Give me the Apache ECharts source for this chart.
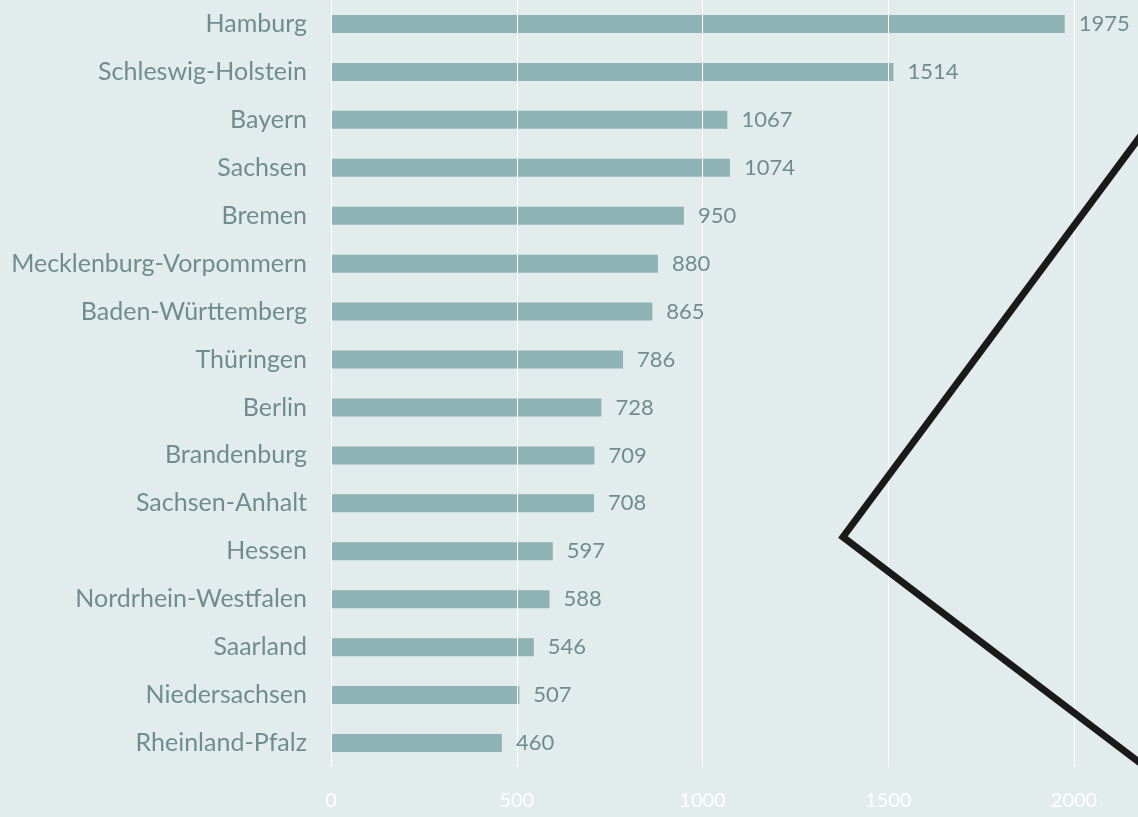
<!DOCTYPE html>
<html>
<head>
<meta charset="utf-8">
<title>Bundesländer</title>
<script src="https://cdn.jsdelivr.net/npm/echarts@6/dist/echarts.min.js"></script>
<style>
  html, body {
    margin: 0;
    padding: 0;
    background: #e3ecec;
  }
  #chart {
    width: 1138px;
    height: 817px;
  }
</style>
</head>
<body>
<div id="chart"></div>
<script>
/* Kategorien, von oben nach unten */
const states = [
  'Hamburg', 'Schleswig-Holstein', 'Bayern', 'Sachsen', 'Bremen',
  'Mecklenburg-Vorpommern', 'Baden-Württemberg', 'Thüringen', 'Berlin',
  'Brandenburg', 'Sachsen-Anhalt', 'Hessen', 'Nordrhein-Westfalen',
  'Saarland', 'Niedersachsen', 'Rheinland-Pfalz'
]
const values = [
  1975, 1514, 1067, 1074, 950, 880, 865, 786, 728,
  709, 708, 597, 588, 546, 507, 460
]
const xTicks = [0, 500, 1000, 1500, 2000]

const textColor = '#708d8e'
const barColor = '#8fb3b5'

const myChart = echarts.init(document.getElementById('chart'))

myChart.setOption({
  backgroundColor: '#e3ecec',
  animation: false,
  textStyle: {
    fontFamily: 'Lato'
  },
  grid: {
    left: 331,
    right: 64,
    top: -2,
    bottom: 50
  },
  // x-Achse: Gitterlinien liegen über den Balken, aber unter den Werten
  xAxis: {
    type: 'value',
    min: xTicks[0],
    max: xTicks[xTicks.length - 1],
    interval: xTicks[1] - xTicks[0],
    z: 5,
    axisLine: { show: false },
    axisTick: { show: false },
    splitLine: {
      show: true,
      lineStyle: { color: '#ffffff', width: 1 }
    },
    axisLabel: {
      color: '#ffffff',
      fontSize: 20,
      margin: 24,
      formatter: function (v) {
        return String(v)
      }
    }
  },
  yAxis: {
    type: 'category',
    inverse: true,
    data: states,
    axisLine: { show: false },
    axisTick: { show: false },
    axisLabel: {
      color: textColor,
      fontSize: 25,
      margin: 24
    }
  },
  series: [
    // Balken
    {
      type: 'bar',
      data: values,
      barWidth: 18,
      z: 2,
      itemStyle: { color: barColor },
      silent: true
    },
    // unsichtbare Kopie nur für die Beschriftung (über den Gitterlinien)
    {
      type: 'bar',
      data: values,
      barWidth: 18,
      barGap: '-100%',
      z: 10,
      itemStyle: { color: 'rgba(0,0,0,0)' },
      label: {
        show: true,
        position: 'right',
        distance: 14,
        color: textColor,
        fontSize: 22
      }
    }
  ],
  // schwarze Winkel-Markierung rechts
  graphic: [
    {
      type: 'polyline',
      z: 100,
      shape: {
        points: [[1148, 126], [843, 537], [1148, 769]]
      },
      style: {
        stroke: '#1b1a1b',
        lineWidth: 7,
        fill: null,
        lineJoin: 'miter'
      }
    }
  ]
})
</script>
</body>
</html>
